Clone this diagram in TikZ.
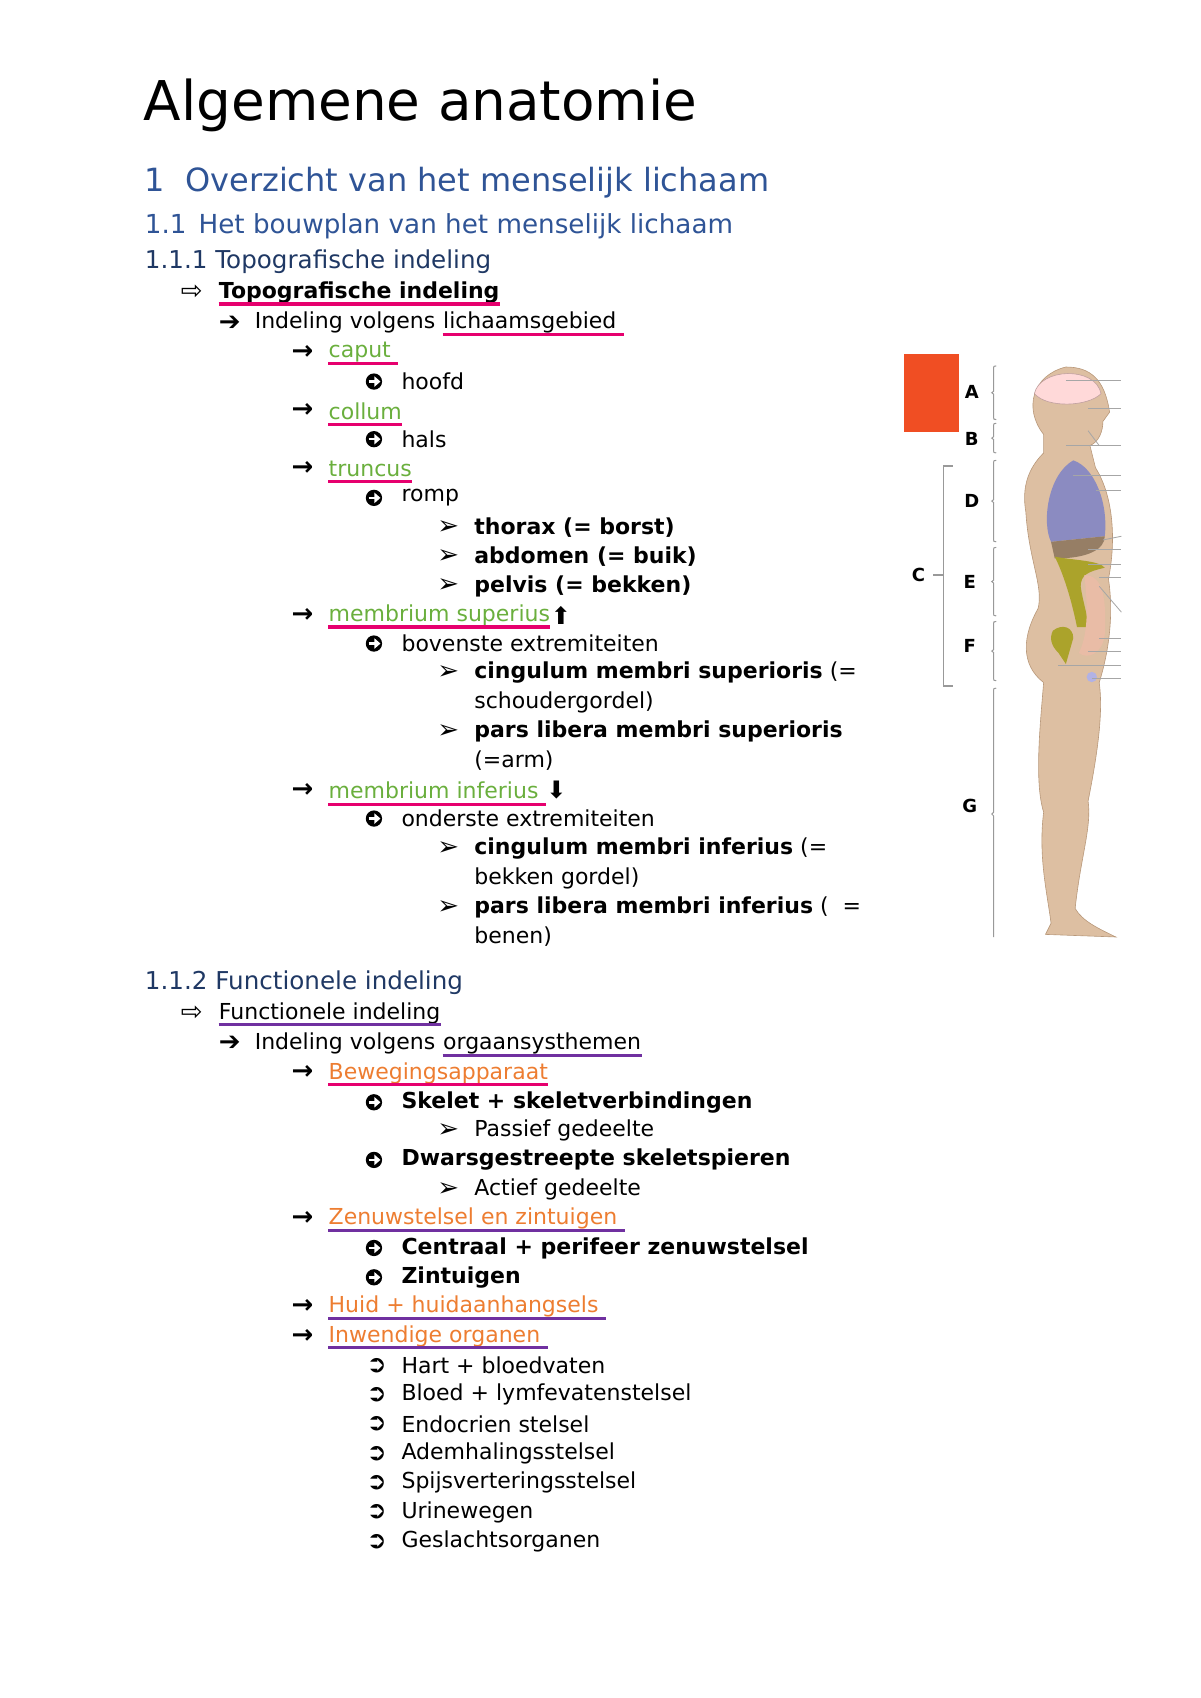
\documentclass[tikz,border=0pt]{standalone}
\usepackage{fontspec}
\setmainfont{DejaVu Sans}
\usetikzlibrary{arrows.meta}
\definecolor{hblue}{HTML}{2F5496}
\definecolor{hdark}{HTML}{1F3864}
\definecolor{lgreen}{HTML}{6AAF3D}
\definecolor{lorange}{HTML}{ED7D31}
\definecolor{ulpink}{HTML}{E6006E}
\definecolor{ulpurple}{HTML}{7030A0}
\definecolor{skin}{HTML}{DDBFA2}
\definecolor{skinline}{HTML}{B8987A}
\definecolor{redbox}{HTML}{F04E23}
\tikzset{
  txt/.style={anchor=west,inner sep=0pt,font=\fontsize{11}{13}\selectfont},
  btxt/.style={txt,font=\bfseries\fontsize{11}{13}\selectfont},
  bul/.style={anchor=west,inner sep=0pt,font=\fontsize{13}{14}\selectfont},
  ulp/.style={draw=ulpink,line width=1.6pt},
  ulv/.style={draw=ulpurple,line width=1.6pt},
  lab/.style={font=\bfseries\fontsize{9}{10}\selectfont,inner sep=0pt},
  pointer/.style={draw=gray!70,line width=0.4pt},
  brace/.style={draw=gray!80,line width=0.5pt},
  cb/.pic={\fill (7,0) circle (7.5);
    \draw[white,line width=1.3pt,-{Triangle[length=3pt,width=5pt]}] (2,0) -- (13,0);}
}
\begin{document}
\begin{tikzpicture}[x=0.5435pt,y=-0.5435pt]
\useasboundingbox (0,0) rectangle (1104,1562);
% headings
\node[anchor=west,inner sep=0pt,font=\fontsize{27.4}{32}\selectfont] (title) at (132,97) {Algemene anatomie};
\node[anchor=west,inner sep=0pt,font=\fontsize{16}{19}\selectfont,text=hblue] (h1) at (133,168) {1\hspace{10pt}Overzicht van het menselijk lichaam};
\node[anchor=west,inner sep=0pt,font=\fontsize{13.1}{16}\selectfont,text=hblue] (h11) at (133,208) {1.1\hspace{6pt}Het bouwplan van het menselijk lichaam};
\node[anchor=west,inner sep=0pt,font=\fontsize{12.3}{15}\selectfont,text=hdark] (h111) at (133,241) {1.1.1 Topografische indeling};
% topografische indeling
\node[bul] at (166,269) {⇨};
\node[btxt] (topo) at (201,269) {Topografische indeling};
\node[bul] at (201,297) {➔};
\node[txt] (volg1) at (234,297) {Indeling volgens\kern3.5pt};
\node[txt,anchor=base west] (geb) at (volg1.base east) {lichaamsgebied\kern3.5pt};
\node[bul,font=\bfseries\fontsize{13}{14}\selectfont] at (268,324) {→};
\node[txt,text=lgreen] (caput) at (302,324) {caput\kern3.5pt};
\pic at (337,351) {cb};
\node[txt] (hoofd) at (369,351) {hoofd};
\node[bul,font=\bfseries\fontsize{13}{14}\selectfont] at (268,378) {→};
\node[txt,text=lgreen] (collum) at (302,378) {collum};
\pic at (337,404) {cb};
\node[txt] (hals) at (369,404) {hals};
\node[bul,font=\bfseries\fontsize{13}{14}\selectfont] at (268,431) {→};
\node[txt,text=lgreen] (truncus) at (302,431) {truncus};
\pic at (337,458) {cb};
\node[txt] (romp) at (369,458) {romp};
\node[bul] at (402,485) {➢};
\node[btxt] (thorax) at (436,485) {thorax (= borst)};
\node[bul] at (402,512) {➢};
\node[btxt] (abdomen) at (436,512) {abdomen (= buik)};
\node[bul] at (402,539) {➢};
\node[btxt] (pelvis) at (436,539) {pelvis (= bekken)};
\node[bul,font=\bfseries\fontsize{13}{14}\selectfont] at (268,566) {→};
\node[txt,text=lgreen] (msup) at (302,566) {membrium superius};
\node[bul,anchor=west,font=\fontsize{12}{13}\selectfont] at (msup.east) {⬆};
\pic at (337,592) {cb};
\node[txt] (boven) at (369,592) {bovenste extremiteiten};
\node[bul] at (402,619) {➢};
\node[txt] (cingsup) at (436,619) {\textbf{cingulum membri superioris} (=};
\node[txt] (schoud) at (436,646) {schoudergordel)};
\node[bul] at (402,673) {➢};
\node[btxt] (parssup) at (436,673) {pars libera membri superioris};
\node[txt] (arm) at (436,700) {(=arm)};
\node[bul,font=\bfseries\fontsize{13}{14}\selectfont] at (268,727) {→};
\node[txt,text=lgreen] (minf) at (302,727) {membrium inferius\kern3.5pt};
\node[bul,anchor=west,font=\fontsize{12}{13}\selectfont] at (minf.east) {⬇};
\pic at (337,753) {cb};
\node[txt] (onder) at (369,753) {onderste extremiteiten};
\node[bul] at (402,781) {➢};
\node[txt] (cinginf) at (436,781) {\textbf{cingulum membri inferius} (=};
\node[txt] (bekk) at (436,808) {bekken gordel)};
\node[bul] at (402,835) {➢};
\node[txt] (parsinf) at (436,835) {\textbf{pars libera membri inferius} (\ \ =};
\node[txt] (benen) at (436,862) {benen)};
% functionele indeling
\node[anchor=west,inner sep=0pt,font=\fontsize{12.3}{15}\selectfont,text=hdark] (h112) at (133,904) {1.1.2 Functionele indeling};
\node[bul] at (166,932) {⇨};
\node[txt] (func) at (201,932) {Functionele indeling};
\node[bul] at (201,960) {➔};
\node[txt] (volg2) at (234,960) {Indeling volgens\kern3.5pt};
\node[txt,anchor=base west] (orgs) at (volg2.base east) {orgaansysthemen};
\node[bul,font=\bfseries\fontsize{13}{14}\selectfont] at (268,987) {→};
\node[txt,text=lorange] (beweg) at (302,987) {Bewegingsapparaat};
\pic at (337,1014) {cb};
\node[btxt] (skelet) at (369,1014) {Skelet + skeletverbindingen};
\node[bul] at (402,1040) {➢};
\node[txt] (passief) at (436,1040) {Passief gedeelte};
\pic at (337,1067) {cb};
\node[btxt] (dwars) at (369,1067) {Dwarsgestreepte skeletspieren};
\node[bul] at (402,1094) {➢};
\node[txt] (actief) at (436,1094) {Actief gedeelte};
\node[bul,font=\bfseries\fontsize{13}{14}\selectfont] at (268,1121) {→};
\node[txt,text=lorange] (zenuw) at (302,1121) {Zenuwstelsel en zintuigen\kern3.5pt};
\pic at (337,1148) {cb};
\node[btxt] (centr) at (369,1148) {Centraal + perifeer zenuwstelsel};
\pic at (337,1175) {cb};
\node[btxt] (zint) at (369,1175) {Zintuigen};
\node[bul,font=\bfseries\fontsize{13}{14}\selectfont] at (268,1202) {→};
\node[txt,text=lorange] (huid) at (302,1202) {Huid + huidaanhangsels\kern3.5pt};
\node[bul,font=\bfseries\fontsize{13}{14}\selectfont] at (268,1229) {→};
\node[txt,text=lorange] (inw) at (302,1229) {Inwendige organen\kern3.5pt};
\foreach \t [count=\i] in {Hart + bloedvaten,Bloed + lymfevatenstelsel,Endocrien stelsel,Ademhalingsstelsel,Spijsverteringsstelsel,Urinewegen,Geslachtsorganen}{
  \node[bul,font=\bfseries\fontsize{12}{13}\selectfont] at (337,1229+27*\i) {➲};
  \node[txt] (org\i) at (369,1229+27*\i) {\t};
}
% underlines
\foreach \n in {topo,geb,caput,collum,truncus,msup,minf,beweg}
  \draw[ulp] ([yshift=-2.8pt]\n.base west) -- ([yshift=-2.8pt]\n.base east);
\foreach \n in {func,orgs,zenuw,huid,inw}
  \draw[ulv] ([yshift=-2.8pt]\n.base west) -- ([yshift=-2.8pt]\n.base east);
% figure
\fill[redbox] (832,326) rectangle (882,397);
\begin{scope}[shift={(742,294)},scale=0.3407]
\fill[skin,draw=skinline,line width=0.3pt]
  (700,128) .. controls (610,150) and (585,240) .. (640,310)
  -- (640,360) .. controls (600,400) and (580,450) .. (592,520)
  .. controls (600,650) and (640,720) .. (625,780)
  .. controls (585,850) and (575,930) .. (640,980)
  .. controls (630,1100) and (615,1250) .. (640,1330)
  .. controls (625,1450) and (650,1550) .. (660,1630)
  -- (645,1660) -- (835,1667) .. controls (790,1645) and (745,1625) .. (725,1590)
  .. controls (740,1450) and (770,1370) .. (760,1300)
  .. controls (790,1150) and (800,1050) .. (790,980)
  .. controls (815,900) and (830,800) .. (815,700)
  .. controls (835,600) and (830,480) .. (780,400)
  -- (765,340) .. controls (790,330) and (800,300) .. (800,275)
  -- (818,250) .. controls (805,160) and (765,128) .. (700,128) -- cycle;
\fill[pink!60!white,draw=pink!50!gray,line width=0.3pt] (615,200) .. controls (630,130) and (780,125) .. (795,200) .. controls (760,235) and (650,240) .. (615,200) -- cycle;
\fill[blue!30!gray!70!white] (720,380) .. controls (650,420) and (635,550) .. (660,600) -- (805,585) .. controls (815,500) and (780,400) .. (720,380) -- cycle;
\fill[brown!55!black!70!white] (660,600) -- (805,585) .. controls (805,620) and (760,645) .. (670,645) -- cycle;
\fill[olive!75] (670,640) .. controls (720,650) and (790,650) .. (805,670) .. controls (760,680) and (740,690) .. (740,720) .. controls (745,760) and (760,800) .. (760,830) -- (730,830) .. controls (720,780) and (700,700) .. (670,640) -- cycle;
\fill[olive!75] (665,840) .. controls (690,820) and (720,830) .. (720,860) -- (700,930) -- (680,900) .. controls (660,880) and (655,860) .. (665,840) -- cycle;
\fill[pink!50!brown!70!white] (750,690) .. controls (800,690) and (810,750) .. (805,850) .. controls (800,900) and (760,920) .. (735,900) .. controls (760,850) and (760,780) .. (750,690) -- cycle;
\fill[gray!50!blue!40] (770,965) circle (14);
\foreach \y/\x in {165/700,240/760,340/700,420/720,462/780,620/760,660/760,697/790,860/790,897/760,935/680,970/770}
  \draw[pointer] (\x,\y) -- (850,\y);
\draw[pointer] (800,595) -- (850,585);
\draw[pointer] (790,720) -- (850,790);
\draw[pointer] (760,300) -- (790,340);
% braces
\foreach \a/\b in {125/270,280/360,380/600,615/800,815/975}{
  \draw[brace] (512,\a) .. controls (505,\a) and (505,\a) .. (505,\a+10) -- (505,{(\a+\b)/2-4}) -- (500,{(\a+\b)/2}) -- (505,{(\a+\b)/2+4}) -- (505,\b-10) .. controls (505,\b) and (505,\b) .. (512,\b);}
\draw[brace] (512,995) .. controls (505,995) and (505,995) .. (505,1005) -- (505,1330) -- (500,1335) -- (505,1340) -- (505,1667);
\draw[brace,line width=0.8pt] (395,395) -- (370,395) -- (370,990) -- (395,990);
\draw[brace,line width=0.8pt] (370,690) -- (340,690);
\end{scope}
\node[lab] (A) at (894,361) {A};
\node[lab] (B) at (894,404) {B};
\node[lab] (D) at (894,461) {D};
\node[lab] (C) at (845,529) {C};
\node[lab] (E) at (892,535) {E};
\node[lab] (F) at (892,594) {F};
\node[lab] (G) at (892,741) {G};
\end{tikzpicture}
\end{document}
